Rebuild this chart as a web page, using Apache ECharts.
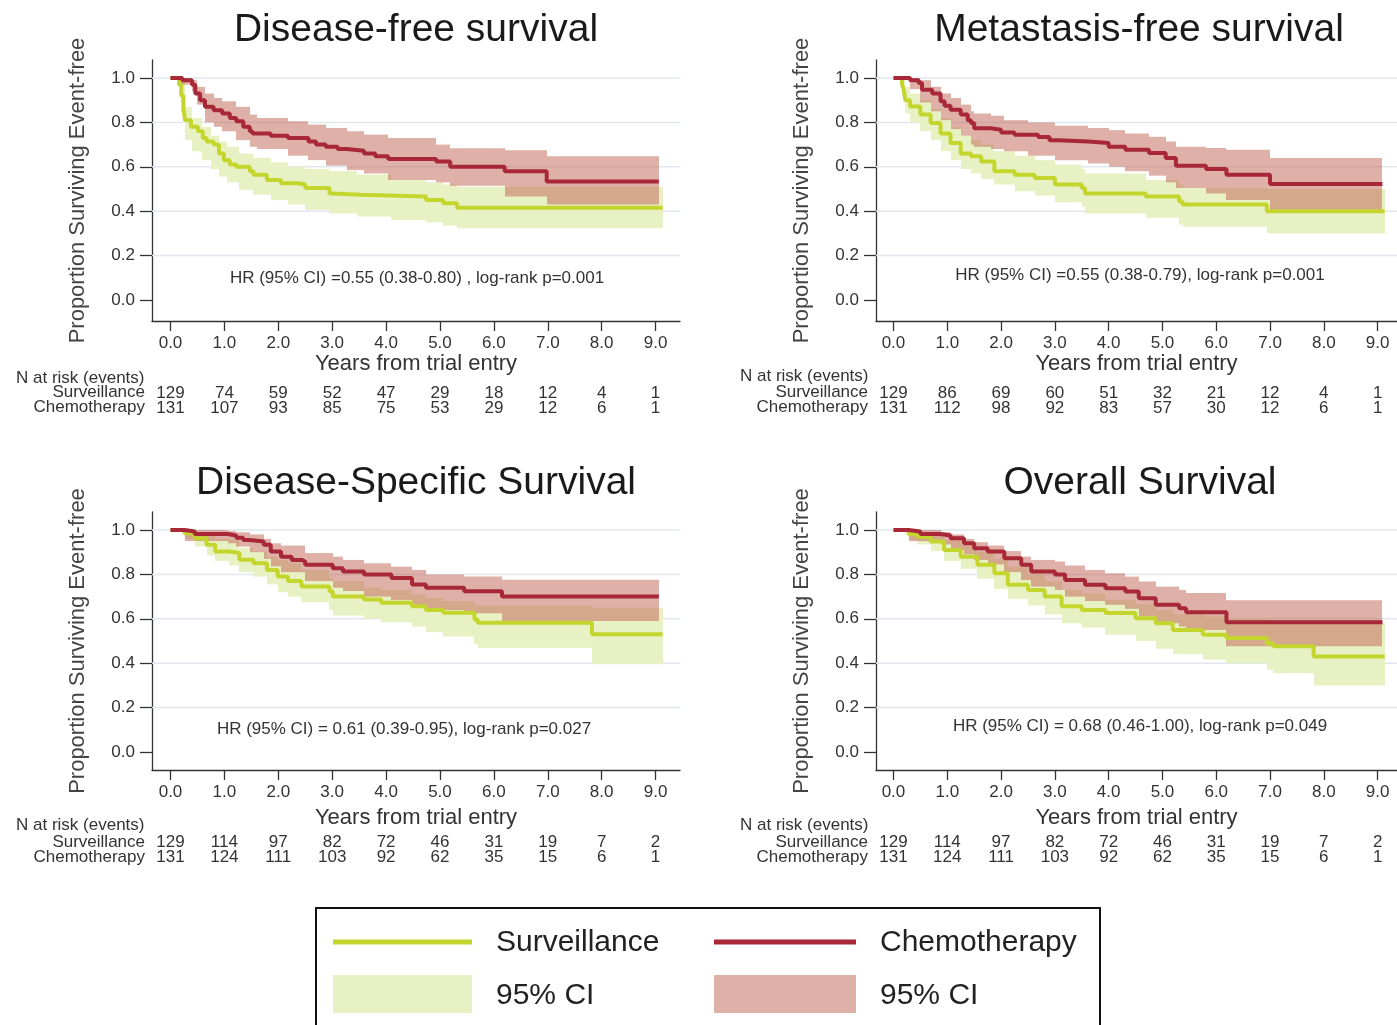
<!DOCTYPE html>
<html><head><meta charset="utf-8">
<script src="https://cdn.jsdelivr.net/npm/echarts@6/dist/echarts.min.js"></script>
<style>html,body{margin:0;padding:0;background:#fff}#c{width:1397px;height:1025px}</style>
</head><body><div id="c"></div>
<script>
// ---------- tick labels ----------
const xTickValues = [0,1,2,3,4,5,6,7,8,9];
const xTickLabels = ['0.0','1.0','2.0','3.0','4.0','5.0','6.0','7.0','8.0','9.0'];
const yTickValues = [0,0.2,0.4,0.6,0.8,1.0];
const yTickLabels = ['0.0','0.2','0.4','0.6','0.8','1.0'];
const gridValues = [0.2,0.4,0.6,0.8,1.0];

const panelTitles = ['Disease-free survival','Metastasis-free survival','Disease-Specific Survival','Overall Survival'];
const hrTexts = [
  'HR (95% CI) =0.55 (0.38-0.80) , log-rank p=0.001',
  'HR (95% CI) =0.55 (0.38-0.79), log-rank p=0.001',
  'HR (95% CI) = 0.61 (0.39-0.95), log-rank p=0.027',
  'HR (95% CI) = 0.68 (0.46-1.00), log-rank p=0.049'
];
const xAxisName = 'Years from trial entry';
const yAxisName = 'Proportion Surviving Event-free';
const riskHeader = 'N at risk (events)';
const groupNames = ['Surveillance','Chemotherapy'];
const ciName = '95% CI';

// ---------- numbers at risk ----------
const dfsRiskSurv  = [129,74,59,52,47,29,18,12,4,1];
const dfsRiskChemo = [131,107,93,85,75,53,29,12,6,1];
const mfsRiskSurv  = [129,86,69,60,51,32,21,12,4,1];
const mfsRiskChemo = [131,112,98,92,83,57,30,12,6,1];
const dssRiskSurv  = [129,114,97,82,72,46,31,19,7,2];
const dssRiskChemo = [131,124,111,103,92,62,35,15,6,1];
const osRiskSurv   = [129,114,97,82,72,46,31,19,7,2];
const osRiskChemo  = [131,124,111,103,92,62,35,15,6,1];

// ---------- KM curves: [time, survival from this time on] ----------
const dfsChemo = [[0,1],[0.22,0.99],[0.4,0.97],[0.46,0.93],[0.55,0.9],[0.64,0.87],[0.8,0.855],[0.96,0.84],[1.1,0.82],[1.22,0.805],[1.35,0.78],[1.47,0.76],[1.52,0.75],[1.86,0.74],[2.18,0.73],[2.56,0.714],[2.7,0.70],[2.88,0.69],[3.1,0.68],[3.27,0.672],[3.59,0.66],[3.8,0.648],[4.04,0.635],[4.93,0.624],[5.19,0.60],[6.2,0.58],[6.98,0.534],[9.06,0.534]];
const dfsChemoCI = [[0.2,0.97,1.0],[0.4,0.94,0.99],[0.5,0.88,0.96],[0.64,0.80,0.93],[0.8,0.78,0.91],[0.96,0.76,0.895],[1.22,0.72,0.87],[1.47,0.69,0.835],[1.6,0.68,0.82],[2.18,0.65,0.805],[2.56,0.63,0.79],[2.88,0.605,0.775],[3.27,0.585,0.76],[3.59,0.57,0.745],[4.04,0.54,0.73],[4.93,0.53,0.70],[5.19,0.515,0.684],[6.2,0.466,0.674],[6.98,0.43,0.647],[9.06,0.43,0.647]];
const dfsSurv = [[0,1],[0.16,0.97],[0.2,0.92],[0.24,0.86],[0.27,0.81],[0.38,0.78],[0.51,0.76],[0.6,0.73],[0.67,0.714],[0.8,0.70],[0.9,0.66],[0.99,0.63],[1.1,0.61],[1.22,0.60],[1.47,0.58],[1.54,0.564],[1.79,0.54],[2.05,0.526],[2.37,0.52],[2.5,0.504],[2.95,0.48],[3.01,0.474],[3.52,0.466],[4.74,0.45],[5.06,0.436],[5.32,0.415],[9.13,0.415]];
const dfsSurvCI = [[0.16,0.95,1.0],[0.2,0.85,0.98],[0.26,0.72,0.87],[0.4,0.67,0.82],[0.58,0.63,0.78],[0.75,0.59,0.74],[0.9,0.556,0.714],[1.05,0.53,0.69],[1.28,0.496,0.66],[1.54,0.475,0.64],[1.86,0.45,0.62],[2.18,0.43,0.60],[2.5,0.406,0.59],[2.95,0.39,0.58],[3.46,0.376,0.565],[4.1,0.36,0.54],[4.74,0.35,0.53],[5.06,0.335,0.52],[5.32,0.323,0.51],[9.13,0.323,0.51]];

const mfsChemo = [[0,1],[0.31,0.99],[0.47,0.977],[0.53,0.947],[0.72,0.93],[0.875,0.895],[0.95,0.875],[1.06,0.857],[1.25,0.835],[1.38,0.81],[1.44,0.797],[1.5,0.774],[1.81,0.767],[2.0,0.755],[2.25,0.744],[2.69,0.734],[2.9,0.72],[3.06,0.714],[3.62,0.707],[4.0,0.69],[4.31,0.677],[4.75,0.662],[5.06,0.64],[5.25,0.605],[5.81,0.59],[6.19,0.564],[7.0,0.523],[9.09,0.523]];
const mfsChemoCI = [[0.31,0.95,1.0],[0.5,0.89,0.99],[0.7,0.85,0.96],[0.875,0.81,0.93],[1.06,0.77,0.91],[1.25,0.74,0.88],[1.44,0.70,0.85],[1.5,0.69,0.84],[1.81,0.68,0.83],[2.06,0.67,0.81],[2.5,0.65,0.80],[3.0,0.63,0.785],[3.62,0.615,0.775],[4.0,0.60,0.765],[4.31,0.58,0.75],[4.75,0.56,0.735],[5.06,0.53,0.714],[5.25,0.504,0.69],[5.81,0.48,0.685],[6.19,0.45,0.677],[7.0,0.406,0.64],[9.09,0.406,0.64]];
const mfsSurv = [[0,1],[0.16,0.97],[0.19,0.947],[0.22,0.90],[0.31,0.872],[0.5,0.835],[0.69,0.797],[0.875,0.75],[1.06,0.707],[1.25,0.66],[1.44,0.647],[1.63,0.624],[1.875,0.58],[2.25,0.564],[2.625,0.55],[3.0,0.52],[3.5,0.504],[3.56,0.48],[4.69,0.466],[5.31,0.444],[5.375,0.43],[6.94,0.40],[9.13,0.40]];
const mfsSurvCI = [[0.16,0.92,1.0],[0.22,0.84,0.96],[0.31,0.80,0.93],[0.5,0.76,0.90],[0.69,0.72,0.86],[0.875,0.67,0.82],[1.06,0.63,0.78],[1.25,0.59,0.74],[1.44,0.57,0.72],[1.63,0.545,0.70],[1.875,0.52,0.67],[2.25,0.49,0.65],[2.625,0.47,0.63],[3.0,0.44,0.61],[3.5,0.42,0.59],[3.56,0.39,0.57],[4.69,0.37,0.54],[5.31,0.34,0.52],[5.375,0.33,0.505],[6.94,0.30,0.50],[9.13,0.30,0.50]];

const dssChemo = [[0,1],[0.26,0.993],[0.45,0.982],[1.06,0.975],[1.22,0.965],[1.35,0.955],[1.47,0.948],[1.73,0.933],[1.86,0.903],[2.05,0.88],[2.25,0.865],[2.43,0.858],[2.5,0.843],[3.01,0.828],[3.2,0.813],[3.59,0.80],[4.1,0.784],[4.48,0.754],[4.74,0.74],[5.45,0.724],[6.15,0.70],[9.06,0.70]];
const dssChemoCI = [[0.26,0.95,1.0],[1.06,0.94,0.995],[1.22,0.925,0.99],[1.47,0.90,0.98],[1.73,0.87,0.96],[1.86,0.836,0.94],[2.05,0.81,0.93],[2.5,0.77,0.896],[3.01,0.74,0.88],[3.2,0.725,0.865],[3.59,0.70,0.85],[4.1,0.685,0.835],[4.48,0.657,0.82],[4.74,0.64,0.80],[5.45,0.625,0.79],[6.15,0.59,0.776],[9.06,0.59,0.776]];
const dssSurv = [[0,1],[0.26,0.985],[0.45,0.963],[0.67,0.933],[0.83,0.903],[1.09,0.896],[1.28,0.866],[1.54,0.85],[1.79,0.82],[1.99,0.79],[2.18,0.77],[2.43,0.746],[2.95,0.724],[3.01,0.70],[3.59,0.687],[3.91,0.672],[4.48,0.657],[4.74,0.64],[5.06,0.627],[5.64,0.597],[5.7,0.582],[7.82,0.53],[9.13,0.53]];
const dssSurvCI = [[0.26,0.96,1.0],[0.45,0.925,0.99],[0.67,0.885,0.975],[0.83,0.86,0.96],[1.09,0.84,0.955],[1.28,0.81,0.92],[1.54,0.79,0.903],[1.79,0.755,0.88],[1.99,0.72,0.865],[2.18,0.70,0.85],[2.43,0.675,0.82],[2.95,0.64,0.784],[3.01,0.615,0.77],[3.59,0.60,0.74],[3.91,0.585,0.73],[4.48,0.565,0.71],[4.74,0.54,0.694],[5.06,0.52,0.68],[5.64,0.485,0.665],[5.7,0.47,0.66],[7.82,0.395,0.65],[9.13,0.395,0.65]];

const osChemo = [[0,1],[0.28,0.993],[0.5,0.982],[0.875,0.975],[1.06,0.963],[1.31,0.94],[1.5,0.918],[1.75,0.903],[2.06,0.873],[2.375,0.843],[2.56,0.813],[3.0,0.80],[3.19,0.775],[3.56,0.753],[3.94,0.738],[4.31,0.723],[4.56,0.693],[4.875,0.663],[5.31,0.648],[5.44,0.63],[6.19,0.584],[9.09,0.584]];
const osChemoCI = [[0.28,0.95,1.0],[0.875,0.935,0.99],[1.06,0.91,0.98],[1.31,0.89,0.96],[1.5,0.865,0.945],[1.75,0.845,0.93],[2.06,0.81,0.905],[2.375,0.775,0.88],[2.56,0.745,0.865],[3.0,0.73,0.858],[3.19,0.70,0.84],[3.56,0.68,0.82],[3.94,0.663,0.805],[4.31,0.645,0.79],[4.56,0.61,0.768],[4.875,0.58,0.745],[5.31,0.565,0.73],[5.44,0.55,0.716],[6.19,0.476,0.683],[9.09,0.476,0.683]];
const osSurv = [[0,1],[0.28,0.982],[0.44,0.97],[0.69,0.948],[0.94,0.91],[1.25,0.88],[1.56,0.843],[1.875,0.805],[2.125,0.753],[2.5,0.73],[2.81,0.70],[3.125,0.656],[3.5,0.64],[3.94,0.626],[4.5,0.603],[4.875,0.58],[5.19,0.55],[5.75,0.528],[6.19,0.513],[6.94,0.49],[7.06,0.476],[7.81,0.43],[9.13,0.43]];
const osSurvCI = [[0.28,0.955,1.0],[0.44,0.935,0.99],[0.69,0.905,0.975],[0.94,0.86,0.955],[1.25,0.825,0.93],[1.56,0.78,0.90],[1.875,0.735,0.87],[2.125,0.69,0.835],[2.5,0.66,0.80],[2.81,0.62,0.77],[3.125,0.58,0.73],[3.5,0.56,0.715],[3.94,0.528,0.686],[4.5,0.50,0.665],[4.875,0.465,0.64],[5.19,0.44,0.62],[5.75,0.416,0.61],[6.19,0.40,0.60],[6.94,0.37,0.595],[7.06,0.355,0.59],[7.81,0.30,0.58],[9.13,0.30,0.58]];

// ---------- styling / layout ----------
const FONT = '"Liberation Sans", Arial, Helvetica, sans-serif';
const C_SURV = '#c4d62e';
const C_CHEMO = '#a82838';
const C_SURV_CI = '#e8f1c4';
const C_CHEMO_CI = 'rgba(191,97,81,0.5)';
const TXT = '#333';

const panelData = [
  {surv: dfsSurv, survCI: dfsSurvCI, chemo: dfsChemo, chemoCI: dfsChemoCI, rs: dfsRiskSurv, rc: dfsRiskChemo},
  {surv: mfsSurv, survCI: mfsSurvCI, chemo: mfsChemo, chemoCI: mfsChemoCI, rs: mfsRiskSurv, rc: mfsRiskChemo},
  {surv: dssSurv, survCI: dssSurvCI, chemo: dssChemo, chemoCI: dssChemoCI, rs: dssRiskSurv, rc: dssRiskChemo},
  {surv: osSurv, survCI: osSurvCI, chemo: osChemo, chemoCI: osChemoCI, rs: osRiskSurv, rc: osRiskChemo}
];
const layout = [
  {left:152, top:60,  width:528, height:261, xr:[-0.343,9.453], yr:[-0.0946,1.081], nameGapX:32, title:[416,30],  hr:[417,278], rl:16,  rr:145, ry:[378,392,407]},
  {left:876, top:60,  width:521, height:261, xr:[-0.325,9.36],  yr:[-0.0946,1.081], nameGapX:32, title:[1139,30], hr:[1140,275], rl:740, rr:868, ry:[376,392,407]},
  {left:152, top:512, width:528, height:258, xr:[-0.343,9.453], yr:[-0.081,1.081],  nameGapX:37, title:[416,483], hr:[404,729], rl:16,  rr:145, ry:[825,842,857]},
  {left:876, top:512, width:521, height:258, xr:[-0.325,9.36],  yr:[-0.081,1.081],  nameGapX:37, title:[1140,483], hr:[1140,726], rl:740, rr:868, ry:[825,842,857]}
];

function bandItems(ci) {
  const out = [];
  for (let i = 0; i < ci.length - 1; i++) out.push([ci[i][0], ci[i+1][0], ci[i][1], ci[i][2]]);
  return out;
}
function bandRender(color) {
  return function (params, api) {
    const p0 = api.coord([api.value(0), api.value(3)]);
    const p1 = api.coord([api.value(1), api.value(2)]);
    const x0 = Math.round(p0[0]), x1 = Math.round(p1[0]);
    return {type:'rect', shape:{x:x0, y:p0[1], width:x1-x0, height:p1[1]-p0[1]}, style:{fill:color}};
  };
}
function gridRender(params, api) {
  const y = api.coord([0, api.value(1)])[1];
  const cs = params.coordSys;
  return {type:'line', shape:{x1:cs.x, y1:y, x2:cs.x+cs.width, y2:y}, style:{stroke:'#e1e7ef', lineWidth:1.5}};
}

const grids = [], xAxes = [], yAxes = [], series = [], graphics = [];
layout.forEach((L, p) => {
  const D = panelData[p];
  grids.push({left:L.left, top:L.top, width:L.width, height:L.height, outerBoundsMode:'none', containLabel:false});
  xAxes.push({
    type:'value', gridIndex:p, min:L.xr[0], max:L.xr[1],
    name:xAxisName, nameLocation:'middle', nameGap:L.nameGapX, nameMoveOverlap:false,
    nameTextStyle:{fontFamily:FONT, fontSize:22, color:TXT},
    axisLine:{show:true, onZero:false, lineStyle:{color:'#333', width:1.3}},
    axisTick:{show:true, customValues:xTickValues, length:10, lineStyle:{color:'#333', width:1.3}},
    splitLine:{show:false},
    axisLabel:{
      customValues:xTickValues, margin:12, interval:0, hideOverlap:false,
      formatter:function (v) {
        const i = xTickValues.indexOf(Math.round(v));
        return '{t|' + xTickLabels[i] + '}\n{g| }\n{n|' + D.rs[i] + '}\n{n|' + D.rc[i] + '}';
      },
      rich:{
        t:{fontFamily:FONT, fontSize:17, lineHeight:20, color:TXT},
        g:{fontFamily:FONT, fontSize:10, lineHeight:32.5},
        n:{fontFamily:FONT, fontSize:17, lineHeight:15, color:TXT}
      }
    }
  });
  yAxes.push({
    type:'value', gridIndex:p, min:L.yr[0], max:L.yr[1],
    name:yAxisName, nameLocation:'middle', nameGap:63, nameMoveOverlap:false,
    nameTextStyle:{fontFamily:FONT, fontSize:22, color:'#444'},
    axisLine:{show:true, onZero:false, lineStyle:{color:'#333', width:1.3}},
    axisTick:{show:true, customValues:yTickValues, length:12, lineStyle:{color:'#333', width:1.3}},
    splitLine:{show:false},
    axisLabel:{
      customValues:yTickValues, margin:17, fontFamily:FONT, fontSize:17, color:TXT,
      formatter:function (v) { return yTickLabels[yTickValues.findIndex(t => Math.abs(t - v) < 1e-6)]; }
    }
  });
  series.push({type:'custom', xAxisIndex:p, yAxisIndex:p, z:1, silent:true, renderItem:gridRender,
               data:gridValues.map(v => [0, v]), encode:{x:0, y:1}});
  series.push({type:'custom', xAxisIndex:p, yAxisIndex:p, z:2, silent:true, renderItem:bandRender(C_SURV_CI),
               data:bandItems(D.survCI), encode:{x:[0,1], y:[2,3]}});
  series.push({type:'custom', xAxisIndex:p, yAxisIndex:p, z:3, silent:true, renderItem:bandRender(C_CHEMO_CI),
               data:bandItems(D.chemoCI), encode:{x:[0,1], y:[2,3]}});
  series.push({type:'line', xAxisIndex:p, yAxisIndex:p, z:4, step:'end', showSymbol:false, silent:true,
               data:D.surv, lineStyle:{color:C_SURV, width:4}});
  series.push({type:'line', xAxisIndex:p, yAxisIndex:p, z:5, step:'end', showSymbol:false, silent:true,
               data:D.chemo, lineStyle:{color:C_CHEMO, width:4}});

  graphics.push({type:'text', x:L.title[0], y:L.title[1], style:{text:panelTitles[p], fontFamily:FONT, fontSize:39, fill:'#1a1a1a', align:'center', verticalAlign:'middle'}});
  graphics.push({type:'text', x:L.hr[0], y:L.hr[1], style:{text:hrTexts[p], fontFamily:FONT, fontSize:17, fill:TXT, align:'center', verticalAlign:'middle'}});
  graphics.push({type:'text', x:L.rl, y:L.ry[0], style:{text:riskHeader, fontFamily:FONT, fontSize:17, fill:TXT, align:'left', verticalAlign:'middle'}});
  graphics.push({type:'text', x:L.rr, y:L.ry[1], style:{text:groupNames[0], fontFamily:FONT, fontSize:17, fill:TXT, align:'right', verticalAlign:'middle'}});
  graphics.push({type:'text', x:L.rr, y:L.ry[2], style:{text:groupNames[1], fontFamily:FONT, fontSize:17, fill:TXT, align:'right', verticalAlign:'middle'}});
});

// legend box
graphics.push({type:'rect', shape:{x:316, y:908, width:784, height:140}, style:{fill:'none', stroke:'#111', lineWidth:2}});
graphics.push({type:'line', shape:{x1:333, y1:942, x2:472, y2:942}, style:{stroke:C_SURV, lineWidth:5}});
graphics.push({type:'line', shape:{x1:714, y1:942, x2:856, y2:942}, style:{stroke:C_CHEMO, lineWidth:5}});
graphics.push({type:'rect', shape:{x:333, y:975, width:139, height:38}, style:{fill:C_SURV_CI}});
graphics.push({type:'rect', shape:{x:714, y:975, width:142, height:38}, style:{fill:C_CHEMO_CI}});
graphics.push({type:'text', x:496, y:943, style:{text:groupNames[0], fontFamily:FONT, fontSize:30, fill:'#222', align:'left', verticalAlign:'middle'}});
graphics.push({type:'text', x:880, y:943, style:{text:groupNames[1], fontFamily:FONT, fontSize:30, fill:'#222', align:'left', verticalAlign:'middle'}});
graphics.push({type:'text', x:496, y:996, style:{text:ciName, fontFamily:FONT, fontSize:30, fill:'#222', align:'left', verticalAlign:'middle'}});
graphics.push({type:'text', x:880, y:996, style:{text:ciName, fontFamily:FONT, fontSize:30, fill:'#222', align:'left', verticalAlign:'middle'}});

const chart = echarts.init(document.getElementById('c'), null, {renderer:'canvas'});
chart.setOption({
  animation:false,
  backgroundColor:'#fff',
  grid:grids, xAxis:xAxes, yAxis:yAxes, series:series, graphic:graphics
});
</script></body></html>
